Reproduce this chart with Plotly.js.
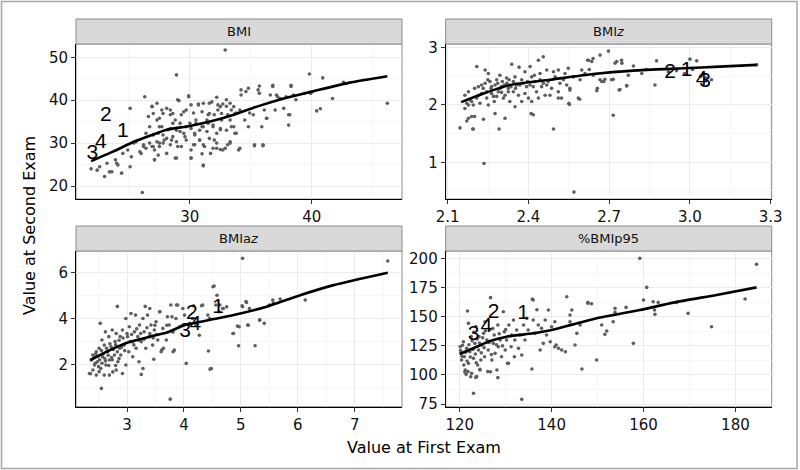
<!DOCTYPE html>
<html><head><meta charset="utf-8">
<script src="https://cdn.plot.ly/plotly-3.0.1.min.js"></script>
<style>html,body{margin:0;padding:0;background:#fff}#chart{width:800px;height:470px}</style>
</head><body><div id="chart"></div>
<script>
// ---- Panel titles ----
const panelTitles = ["BMI", "BMI<i>z</i>", "BMIa<i>z</i>", "%BMIp95"];

// ---- BMI panel: [first exam, second exam] ----
const bmiPts = [
[21.9,24.0],[22.4,23.7],[22.6,24.5],[23.0,22.2],[23.2,25.3],[23.4,23.3],[23.6,23.3],[23.9,26.1],[24.0,25.3],[24.1,24.9],
[24.4,23.0],[24.5,27.6],[24.9,28.4],[25.1,24.5],[25.1,38.1],[25.2,26.8],[25.4,30.0],[25.6,30.3],[26.0,27.6],[26.1,18.5],
[26.2,29.2],[26.3,40.8],[26.4,32.3],[26.6,36.2],[26.7,33.8],[26.9,38.5],[27.0,29.2],[27.1,26.1],[27.3,35.4],[27.3,39.3],
[27.4,32.3],[27.5,30.0],[27.7,33.8],[27.8,36.9],[27.9,30.7],[28.1,27.6],[28.2,33.1],[28.4,37.7],[28.5,30.7],[28.6,34.6],
[28.8,26.5],[28.9,45.9],[29.0,29.2],[29.0,40.1],[29.2,32.7],[29.3,36.6],[29.6,31.5],[29.7,37.7],[29.9,40.8],[30.0,34.6],
[30.1,26.5],[30.3,29.6],[30.4,32.3],[30.5,35.4],[30.7,38.9],[30.8,30.7],[31.0,33.8],[31.1,24.9],[31.2,29.2],[31.4,32.7],
[31.5,36.6],[31.6,39.3],[31.7,27.6],[31.9,34.2],[32.0,30.7],[32.2,28.8],[32.3,37.7],[32.5,33.1],[32.6,35.4],[32.7,28.4],
[32.9,51.7],[33.0,40.1],[33.1,36.6],[33.3,30.0],[33.4,33.8],[33.6,38.5],[33.7,32.3],[33.8,37.0],[34.1,28.8],[34.2,42.4],
[34.5,35.4],[34.8,42.8],[34.8,33.8],[35.3,29.6],[35.6,42.4],[35.7,43.3],[35.9,33.8],[36.0,29.6],[36.3,35.8],[36.6,41.2],
[36.8,43.2],[37.0,37.7],[37.2,40.8],[37.7,38.1],[37.9,40.8],[38.1,34.2],[38.2,36.6],[38.3,43.2],[38.7,40.1],[39.8,46.1],
[39.9,41.6],[40.4,37.5],[40.9,45.2],[41.7,40.4],[42.6,44.2],[46.2,39.3],
[27.0,36.9],[26.9,38.6],[27.7,37.7],[27.5,35.8],[28.1,38.1],[28.4,36.6],[28.6,36.9],[28.8,35.4],[29.1,39.9],[29.5,37.3],
[29.9,41.0],[30.1,38.9],[30.3,37.0],[30.7,39.1],[31.1,39.3],[31.0,37.3],[31.4,35.4],[31.8,39.6],[32.2,40.7],[32.3,38.9],
[32.5,38.5],[32.7,39.1],[33.0,38.6],[33.3,39.3],[33.4,37.7],[33.7,36.9],[32.6,36.9],[32.0,36.6],[31.6,36.9],[33.3,35.4],
[33.6,33.8],[33.8,32.3],[33.0,33.0],[32.5,33.4],[32.2,32.3],[31.9,33.8],[31.5,34.6],[31.1,33.8],[30.8,33.0],[30.5,34.6],
[30.4,31.9],[30.1,33.4],[29.7,33.8],[29.5,32.3],[29.2,34.6],[28.9,33.0],[28.6,31.5],[28.4,33.4],[28.1,31.1],[27.8,31.9],
[27.5,33.8],[27.3,30.3],[27.0,31.9],[26.7,30.0],[26.4,28.8],[26.2,29.6],[25.9,28.0],[26.9,29.2],[27.1,28.4],[27.5,29.2],
[27.8,30.0],[28.4,29.6],[28.9,30.3],[29.3,29.2],[29.7,30.7],[30.1,28.4],[30.4,29.6],[30.8,30.7],[31.1,29.6],[31.6,31.1],
[31.9,28.8],[32.2,30.0],[32.5,28.5],[32.9,28.8],[33.3,30.3],[33.1,29.6],[31.0,27.5],[30.1,26.5],[28.9,26.5],[27.1,26.1],
[27.4,27.2],[31.1,24.7],[34.1,37.7],[34.2,41.2],[34.6,42.0],[34.9,37.0],[35.2,36.6],[35.7,41.6],[36.1,37.7],[36.3,35.8],
[36.8,43.5],[37.1,41.2],[37.4,40.4],[38.1,36.6],[38.3,43.5],[38.5,41.2],[39.4,41.6],[40.0,41.9],[40.7,38.0],[34.0,28.4],
[35.3,29.4],[36.0,29.4]
];
const bmiLineX = [21.9,23.7,25.4,26.9,28.1,30.0,31.9,33.6,35.5,37.7,40.0,43.1,46.2];
const bmiLineY = [25.8,28.0,30.3,31.9,33.1,34.0,35.2,36.6,38.5,40.4,42.0,44.1,45.6];
const bmiLabX = [24.5,23.1,22.0,22.7];
const bmiLabY = [32.7,36.3,27.5,30.0];

// ---- BMIz panel ----
const bmizPts = [
[2.146,1.60],[2.235,0.98],[2.569,0.48],[2.493,1.58],[2.291,1.58],[2.715,1.82],[2.193,1.58],[2.208,2.67],[2.455,2.84],[2.697,2.94],
[2.666,2.87],[2.876,2.77],[3.0,2.80],[3.025,2.77],[3.08,2.44],[3.06,2.47],[3.248,2.70],[2.838,2.62],[2.79,2.68],[2.765,2.34],
[2.737,2.26],[2.656,2.29],[2.55,2.03],[2.511,2.12],[2.59,2.10],[2.554,2.26],[2.626,2.62],[2.62,2.78],[2.64,2.81],[2.728,2.76],
[2.747,2.73],[2.821,2.55],[2.87,2.35],[2.709,2.44],[2.68,2.41],[2.715,2.45],
[2.195,1.58],[2.171,1.72],[2.177,1.77],[2.189,1.80],[2.2,1.80],[2.233,1.75],[2.164,1.94],[2.171,2.03],[2.164,2.17],[2.177,2.23],
[2.183,2.09],[2.195,2.0],[2.2,2.29],[2.214,2.17],[2.22,2.03],[2.226,2.35],[2.239,2.61],[2.245,2.23],[2.251,2.0],[2.251,2.55],
[2.257,2.41],[2.263,2.32],[2.27,2.15],[2.276,1.85],[2.273,2.06],[2.282,2.44],[2.288,2.23],[2.294,2.52],[2.3,2.32],[2.307,2.12],
[2.313,2.17],[2.313,1.77],[2.319,2.47],[2.325,2.29],[2.331,2.06],[2.338,2.71],[2.344,2.23],[2.35,1.97],[2.35,2.49],[2.356,2.35],
[2.363,2.17],[2.365,2.66],[2.375,2.44],[2.387,2.58],[2.393,2.32],[2.4,2.12],[2.406,2.67],[2.41,1.85],[2.418,1.83],[2.412,2.49],
[2.424,2.41],[2.43,2.23],[2.437,2.78],[2.443,2.55],[2.449,2.32],[2.462,2.17],[2.468,2.61],[2.474,2.41],[2.48,2.17],[2.493,2.58],
[2.499,2.49],[2.511,2.61],[2.517,2.38],[2.523,2.12],[2.536,2.55],[2.548,2.64],[2.554,2.29],[2.567,2.49],[2.552,2.01],[2.585,2.12],
[2.592,2.44],[2.598,2.61],[2.61,2.55],[2.623,2.78],[2.635,2.76],[2.641,2.52],[2.654,2.25],[2.666,2.44],[2.672,2.41],[2.684,2.45],
[2.722,2.73],[2.74,2.27],[2.746,2.78],[2.765,2.33],[2.771,2.52],
[2.214,2.32],[2.232,2.29],[2.239,2.38],[2.249,2.44],[2.261,2.29],[2.276,2.35],[2.286,2.38],[2.294,2.29],[2.303,2.41],[2.31,2.35],
[2.32,2.38],[2.328,2.44],[2.335,2.32],[2.344,2.41],[2.352,2.29],[2.368,2.35],[2.381,2.38],[2.397,2.41],[2.406,2.35],[2.418,2.32],
[2.422,2.52],[2.443,2.44],[2.455,2.38],[2.468,2.35],[2.325,2.23],[2.3,2.22],[2.282,2.15],[2.263,2.20],[2.245,2.12],[2.226,2.20],
[2.208,2.12],[2.189,2.06],[2.177,2.0],[2.387,2.20],[2.375,2.06],[2.412,2.06],[2.437,2.12],[2.486,2.29],[2.511,2.23],[2.53,2.44],
[2.542,2.35],[2.95,2.60],[2.98,2.55],[3.01,2.62],[3.04,2.50],[2.92,2.58]
];
const bmizLineX = [2.15,2.233,2.332,2.48,2.641,2.79,2.976,3.11,3.248];
const bmizLineY = [2.05,2.20,2.35,2.44,2.54,2.60,2.64,2.67,2.70];
const bmizLabX = [2.988,2.926,3.056,3.043];
const bmizLabY = [2.60,2.554,2.407,2.449];

// ---- BMIaz panel ----
const bmiazPts = [
[2.36,1.59],[2.55,0.95],[2.83,4.53],[3.32,4.53],[3.76,0.48],[4.04,2.04],[4.46,1.79],[4.43,2.58],[4.53,5.42],[4.58,5.02],
[5.03,6.63],[7.58,6.51],[4.96,2.81],[5.25,2.81],[5.10,4.70],[5.02,4.56],[5.13,3.71],[4.94,3.67],[4.87,3.35],[5.33,3.93],
[5.41,3.79],[5.57,4.68],[5.69,4.85],[6.13,4.81],[4.31,4.56],[4.17,4.56],[3.87,4.59],[3.79,4.08],[3.70,3.71],[3.81,3.42],
[3.58,4.30],[3.40,4.44],[3.49,3.71],[3.61,2.62],[3.81,2.55],[3.47,2.22],[3.25,1.56],[4.63,4.59],[4.69,4.44],[4.75,4.51],
[2.37,2.19],[2.40,2.41],[2.43,1.97],[2.46,2.55],[2.48,2.11],[2.51,2.70],[2.53,3.79],[2.54,1.82],[2.56,3.06],[2.57,2.33],
[2.60,2.84],[2.62,3.42],[2.63,1.97],[2.66,2.55],[2.68,3.21],[2.69,2.19],[2.72,2.77],[2.74,3.50],[2.75,1.67],[2.78,2.41],
[2.79,2.99],[2.81,3.35],[2.84,2.11],[2.87,2.70],[2.88,3.21],[2.89,2.41],[2.92,3.50],[2.95,2.84],[2.98,4.00],[2.98,1.97],
[3.01,3.21],[3.03,2.55],[3.04,3.64],[3.07,4.22],[3.09,2.99],[3.10,2.33],[3.13,3.42],[3.15,4.15],[3.16,2.70],[3.19,3.21],
[3.21,2.11],[3.22,3.72],[3.25,2.99],[3.28,4.00],[3.28,1.82],[3.30,3.42],[3.33,2.70],[3.36,4.15],[3.39,3.21],[3.42,3.72],
[3.45,2.84],[3.48,3.50],[3.51,3.86],[3.54,3.06],[3.57,4.30],[3.60,2.55],[3.63,3.57],[3.64,2.70],[3.69,3.06],[3.71,4.08],
[3.74,3.72],[3.77,4.59],[3.80,3.42],[3.83,2.62],[3.86,4.00],[3.89,4.59],[3.92,3.64],[3.98,4.44],[4.01,4.15],[4.10,3.79],
[4.15,4.00],[4.21,3.72],[4.27,3.27],[4.33,4.59],[4.42,4.15],[4.51,5.39],[4.56,4.59],[4.62,4.30],[4.68,4.44],[4.45,4.00],
[4.86,3.35],[4.97,3.64],[5.03,4.52],[5.09,4.74],[5.12,3.72],[5.15,4.44],[5.33,3.94],[5.50,4.59],[5.56,4.81],[4.48,1.82],
[2.34,1.60],[2.40,1.75],[2.46,1.53],[2.51,1.68],[2.60,1.53],[2.69,1.53],[2.81,1.75],[2.92,1.60],
[2.42,2.30],[2.45,2.45],[2.49,2.35],[2.52,2.20],[2.55,2.60],[2.58,2.45],[2.61,2.25],[2.64,2.70],[2.67,2.40],[2.70,2.90],
[2.73,2.30],[2.76,2.65],[2.80,2.85],[2.83,2.55],[2.86,3.05],[2.90,2.75],[2.93,3.15],[2.96,2.60],[3.00,3.35],[3.05,3.00],
[3.08,3.30],[3.12,2.85],[3.17,3.55],[3.20,3.05],[3.24,3.35],[3.30,3.10],[3.35,3.60],[3.40,3.35],[3.46,3.15],[3.52,3.30],
[2.44,2.05],[2.50,1.90],[2.56,2.05],[2.62,2.15],[2.68,1.95],[2.74,2.20],[2.80,1.95],[2.86,2.25]
];
const bmiazLineX = [2.36,2.64,3.0,3.40,3.70,4.01,4.58,4.99,5.45,6.04,6.63,7.58];
const bmiazLineY = [2.19,2.55,2.94,3.21,3.39,3.71,4.0,4.22,4.52,5.02,5.46,6.0];
const bmiazLabX = [4.60,4.14,4.02,4.20];
const bmiazLabY = [4.45,4.23,3.42,3.75];

// ---- %BMIp95 panel ----
const p95Pts = [
[123,84.2],[133.5,79.0],[159.2,200.3],[184.6,195.1],[160.7,175.3],[157.8,127.2],[149.8,112.8],[146.6,105.1],[135.7,105.1],[143.3,167.3],
[147.9,162.4],[148.7,161.3],[156.2,158.1],[162.1,163.0],[163.2,162.4],[162.4,155.8],[162.5,152.1],[167.2,162.4],[169.7,153.0],[174.8,141.5],
[182.1,165.3],[160.0,164.4],[151.6,134.9],[152,137.8],[153.8,153.8],[153.8,157.3],[153.4,145.8],[150.9,142.9],[144.0,151.5],[145.1,125.7],
[145.5,135.8],[143.0,120.0],[141.0,125.7],[136,164.4],[126.7,166.5],[121.7,155.0],[124.4,104.8],[123.5,97.9],[126.7,102.8],[128.3,97.7],
[130.4,110.0],
[120.1,124.3],[120.3,118.8],[120.4,112.9],[120.8,128.6],[121.0,115.7],[121.2,104.3],[121.5,122.9],[121.9,110.0],[121.9,144.4],
[122.2,120.0],[122.5,133.0],[122.6,101.4],[123.0,114.3],[123.3,127.2],[123.5,141.6],[123.7,98.6],[123.9,108.6],[124.1,121.5],[124.2,133.0],
[124.4,104.3],[124.6,112.9],[124.8,125.8],[125.2,135.8],[125.4,115.7],[125.5,145.8],[125.9,130.1],[126.1,102.9],[126.2,121.5],[126.6,139.1],
[127.0,112.9],[127.3,127.2],[127.5,134.4],[127.7,118.6],[128.1,104.3],[128.3,142.9],[128.4,124.3],[128.8,130.1],[129.1,115.7],[129.5,154.4],
[129.7,137.2],[129.9,121.5],[130.2,130.1],[130.6,110.0],[130.7,142.9],[131.2,124.3],[131.3,134.4],[131.7,147.3],[131.9,115.7],[132.0,130.1],
[132.4,138.7],[132.8,122.9],[133.1,134.4],[133.5,117.2],[133.9,142.9],[134.2,130.1],[134.6,148.7],[134.9,138.7],[135.8,165.2],[136.0,147.3],
[136.4,135.8],[136.8,156.1],[137.1,142.9],[137.5,121.5],[137.8,140.1],[138.2,127.2],[138.6,147.3],[138.9,134.4],[139.3,155.9],[139.7,128.6],
[140.0,141.5],[140.7,124.3],[140.7,145.8],[141.5,122.9],[142.2,121.5],[144.0,145.8],[144.4,155.9],[146.2,142.9],[147.9,161.6],
[120.2,121.0],[120.5,116.0],[120.6,125.5],[120.9,108.5],[121.1,102.5],[121.3,119.5],[121.4,100.5],[121.6,112.0],[121.8,103.0],[122.0,126.0],
[122.3,115.5],[122.4,98.5],[122.7,129.5],[122.9,122.0],[123.1,137.0],[123.4,118.0],[123.6,110.5],[123.8,131.0],[124.3,127.5],[124.7,119.0],
[125.0,132.0],[125.3,123.5],[125.6,138.0],[126.4,128.0],[126.9,117.5],[127.2,140.0],[128.0,126.0],[128.6,135.5],[129.3,125.0],[130.0,139.0]
];
const p95LineX = [120,123.7,126.6,130.2,136,140,144.7,149.8,159.2,166.5,175.9,184.6];
const p95LineY = [118,124.3,129.2,132.9,135.8,138.6,143.5,148.7,155.8,162.2,168.8,175.3];
const p95LabX = [133.8,127.4,123.0,125.8];
const p95LabY = [153.0,153.3,134.8,141.6];

const groupLabels = ["1","2","3","4"];

// ---- axis settings (ranges/ticks) ----
const W = 800, H = 470;
const panels = [
  {pts:bmiPts, lx:bmiLineX, ly:bmiLineY, tx:bmiLabX, ty:bmiLabY, px:[76,402], py:[44,199], xr:[20.66,47.4], yr:[16.97,53.1], xd:10, xm:5, x0:0, yd:10, ym:5, y0:0, xf:""},
  {pts:bmizPts, lx:bmizLineX, ly:bmizLineY, tx:bmizLabX, ty:bmizLabY, px:[445.7,771.7], py:[44,199], xr:[2.0926,3.3037], yr:[0.36,3.064], xd:0.3, xm:0.15, x0:2.1, yd:1, ym:0.5, y0:0, xf:".1f"},
  {pts:bmiazPts, lx:bmiazLineX, ly:bmiazLineY, tx:bmiazLabX, ty:bmiazLabY, px:[76,402], py:[251,406.7], xr:[2.104,7.83], yr:[0.15,6.95], xd:1, xm:0.5, x0:0, yd:2, ym:1, y0:0, xf:""},
  {pts:p95Pts, lx:p95LineX, ly:p95LineY, tx:p95LabX, ty:p95LabY, px:[445.7,771.7], py:[251,406.7], xr:[116.95,187.9], yr:[72.7,206.6], xd:20, xm:10, x0:0, yd:25, ym:12.5, y0:0, xf:""}
];

const FF = '"DejaVu Sans", "Liberation Sans", Arial, sans-serif';
const FL = '"Liberation Sans", Arial, sans-serif';
const traces = [];
const layout = {
  width: W, height: H, margin:{l:0,r:0,t:0,b:0}, showlegend:false,
  paper_bgcolor:'#fff', plot_bgcolor:'#fff',
  font:{family:FF, color:'#000'},
  shapes:[], annotations:[]
};
const tickFont = {size:15, color:'#111', family:FF};

panels.forEach((p,i)=>{
  const n = i+1;
  const xa = 'x'+(n===1?'':n), ya = 'y'+(n===1?'':n);
  const xk = 'xaxis'+(n===1?'':n), yk = 'yaxis'+(n===1?'':n);
  traces.push({type:'scatter', mode:'markers', x:p.pts.map(d=>d[0]), y:p.pts.map(d=>d[1]), xaxis:xa, yaxis:ya,
    marker:{size:3.6, color:'#5e5e5e'}, hoverinfo:'skip', cliponaxis:true});
  traces.push({type:'scatter', mode:'lines', x:p.lx, y:p.ly, xaxis:xa, yaxis:ya,
    line:{color:'#000', width:2.6, shape:'spline', smoothing:0.6}, hoverinfo:'skip'});
  traces.push({type:'scatter', mode:'text', x:p.tx, y:p.ty, text:groupLabels, xaxis:xa, yaxis:ya,
    textposition:'middle center', textfont:{size:21, color:'#000', family:FL}, hoverinfo:'skip', cliponaxis:false});
  const common = {showline:true, linecolor:'#000', linewidth:1, mirror:false, ticks:'outside', ticklen:4, tickcolor:'#333', tickwidth:1,
    showgrid:true, gridcolor:'#ebebeb', gridwidth:1, zeroline:false, tickfont:tickFont, fixedrange:true};
  layout[xk] = Object.assign({}, common, {domain:[p.px[0]/W, p.px[1]/W], range:p.xr, anchor:ya, tick0:p.x0, dtick:p.xd,
    tickformat:p.xf, minor:{dtick:p.xm, tick0:p.x0, showgrid:true, gridcolor:'#f2f2f2', gridwidth:0.6}});
  layout[yk] = Object.assign({}, common, {domain:[1-p.py[1]/H, 1-p.py[0]/H], range:p.yr, anchor:xa, tick0:p.y0, dtick:p.yd,
    minor:{dtick:p.ym, tick0:p.y0, showgrid:true, gridcolor:'#f2f2f2', gridwidth:0.6}});
  // panel border (gray)
  layout.shapes.push({type:'rect', xref:'paper', yref:'paper', x0:p.px[0]/W, x1:p.px[1]/W, y0:1-p.py[1]/H, y1:1-p.py[0]/H,
    line:{color:'#8c8c8c', width:1}, fillcolor:'rgba(0,0,0,0)', layer:'below'});
  // strip
  layout.shapes.push({type:'rect', xref:'paper', yref:'paper', x0:p.px[0]/W, x1:p.px[1]/W, y0:1-p.py[0]/H, y1:1-(p.py[0]-25)/H,
    line:{color:'#8c8c8c', width:1}, fillcolor:'#d9d9d9'});
  layout.annotations.push({xref:'paper', yref:'paper', x:(p.px[0]+p.px[1])/2/W, y:1-(p.py[0]-12.5)/H, text:panelTitles[i],
    showarrow:false, xanchor:'center', yanchor:'middle', font:{size:13, color:'#111'}});
});

// axis titles
layout.annotations.push({xref:'paper', yref:'paper', x:424/W, y:1-447/H, text:'Value at First Exam', showarrow:false,
  xanchor:'center', yanchor:'middle', font:{size:16, color:'#000'}});
layout.annotations.push({xref:'paper', yref:'paper', x:30/W, y:1-226/H, text:'Value at Second Exam', showarrow:false, textangle:-90,
  xanchor:'center', yanchor:'middle', font:{size:16, color:'#000'}});
// outer frame
layout.shapes.push({type:'rect', xref:'paper', yref:'paper', x0:1.5/W, x1:797/W, y0:1-468.5/H, y1:1-1.5/H,
  line:{color:'#a6a6a6', width:1.5}, fillcolor:'rgba(0,0,0,0)'});

Plotly.newPlot('chart', traces, layout, {staticPlot:true, displayModeBar:false});
</script></body></html>
